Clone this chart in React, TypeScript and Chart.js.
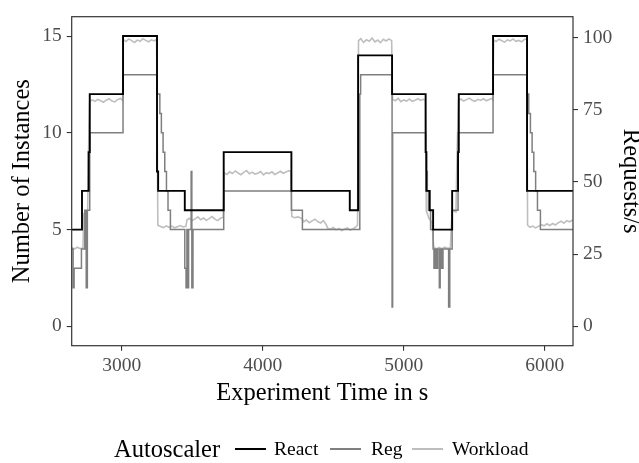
import { useEffect, useRef } from "react";
import { Chart, registerables } from "chart.js";

Chart.register(...registerables);

const FONT = '"Liberation Serif", "Times New Roman", serif';

const xTicks = [3000, 4000, 5000, 6000];
const yTicks = [0, 5, 10, 15];
const y2Ticks = [0, 25, 50, 75, 100];
const seriesNames = ["React", "Reg", "Workload"];
const seriesColors = ["#000000", "#7f7f7f", "#bebebe"];

const reactTime = [2645, 2718, 2765, 2773, 3009, 3250, 3258, 3447, 3723, 4203, 4617, 4676, 4917, 5155, 5160, 5184, 5208, 5343, 5385, 5390, 5633, 5874, 6200];
const reactInstances = [5, 7, 9, 12, 15, 8, 7, 6, 9, 7, 6, 14, 12, 9, 7, 6, 5, 7, 9, 12, 15, 7, 7];

const regTime = [2645, 2655, 2662, 2714, 2738, 2748, 2756, 2773, 3009, 3250, 3270, 3281, 3293, 3305, 3317, 3328, 3345, 3447, 3456, 3462, 3468, 3474, 3492, 3497, 3505, 3723, 4203, 4281, 4688, 4694, 4917, 4921, 5155, 5161, 5167, 5175, 5190, 5208, 5214, 5222, 5232, 5240, 5252, 5258, 5268, 5278, 5318, 5326, 5343, 5385, 5633, 5874, 5886, 5898, 5910, 5922, 5935, 5948, 5969, 6200];
const regInstances = [4, 2, 3, 4, 6, 2, 6, 10, 13, 12, 11, 10, 9, 8, 7, 6, 5, 3, 2, 5, 2, 5, 8, 2, 5, 7, 6, 5, 12, 13, 1, 10, 9, 8, 7, 6, 5, 4, 3, 4, 3, 4, 2, 4, 3, 4, 1, 4, 6, 10, 13, 12, 11, 10, 9, 8, 7, 6, 5, 5];

const workloadTime = [
  2645, 2665, 2685, 2705, 2725, 2731, 2745, 2758, 2764, 2772,
  2790, 2810, 2830, 2850, 2870, 2890, 2910, 2930, 2950, 2970, 2990, 3006,
  3011, 3030, 3050, 3070, 3090, 3110, 3130, 3150, 3170, 3190, 3210, 3230, 3247,
  3256, 3275, 3295, 3315, 3335, 3355, 3375, 3395, 3415, 3435, 3455,
  3462, 3480, 3500, 3520, 3540, 3560, 3580, 3600, 3620, 3640, 3660, 3680, 3700, 3720,
  3726, 3745, 3765, 3785, 3805, 3825, 3845, 3865, 3885, 3905, 3925, 3945, 3965, 3985, 4005, 4025, 4045, 4065, 4085, 4105, 4125, 4145, 4165, 4185, 4200,
  4206, 4225, 4250, 4280, 4290, 4310, 4330, 4350, 4370, 4390, 4410, 4430, 4450, 4460, 4480, 4500, 4520, 4540, 4560, 4580, 4600, 4620, 4640, 4660, 4672,
  4679, 4695, 4715, 4735, 4755, 4775, 4795, 4815, 4835, 4855, 4875, 4895, 4914,
  4920, 4940, 4960, 4980, 5000, 5020, 5040, 5060, 5080, 5100, 5120, 5140, 5153,
  5160, 5178, 5200, 5212, 5230, 5250, 5270, 5290, 5310, 5330, 5342, 5350, 5370, 5378, 5388,
  5405, 5425, 5445, 5465, 5485, 5505, 5525, 5545, 5565, 5585, 5605, 5625, 5632,
  5637, 5655, 5675, 5695, 5715, 5735, 5755, 5775, 5795, 5815, 5835, 5855, 5872,
  5878, 5895, 5915, 5935, 5955, 5975, 5995, 6015, 6035, 6055, 6075, 6095, 6115, 6135, 6155, 6175, 6200,
];
const workloadRps = [
  27.3, 26.8, 27.4, 26.9, 27.2, 39.0, 39.5, 40.2, 60.0, 77.8,
  78.4, 77.9, 78.6, 78.1, 77.6, 78.3, 78.8, 78.0, 77.7, 78.5, 78.9, 78.2,
  99.3, 98.6, 99.5, 98.9, 98.3, 99.1, 98.7, 99.6, 99.0, 98.5, 99.2, 98.8, 99.4,
  35.0, 34.6, 34.2, 34.8, 34.3, 34.7, 34.1, 34.5, 34.9, 34.4, 34.6,
  36.8, 37.4, 36.6, 37.2, 37.9, 36.9, 37.5, 36.7, 37.3, 38.0, 37.1, 36.6, 37.4, 37.8,
  53.2, 52.6, 53.5, 52.9, 53.8, 53.1, 52.5, 53.3, 53.9, 52.8, 53.4, 52.7, 53.0, 53.6, 52.4, 53.2, 52.9, 53.5, 52.6, 53.1, 53.7, 53.0, 53.4, 53.9, 53.6,
  38.0, 37.6, 37.9, 37.2, 36.2, 36.8, 35.9, 36.5, 37.1, 36.3, 35.8, 36.6, 35.2, 34.0, 33.6, 34.2, 33.4, 33.9, 33.2, 33.7, 34.1, 33.3, 33.8, 34.4, 35.0,
  98.9, 99.6, 98.3, 99.2, 98.7, 99.8, 98.5, 99.1, 98.2, 99.4, 98.8, 99.5, 98.9,
  78.6, 78.1, 78.9, 77.8, 78.4, 78.0, 78.7, 77.9, 78.3, 78.8, 78.2, 78.6, 78.4,
  40.0, 37.5, 36.0, 27.5, 26.8, 27.3, 26.9, 27.4, 27.0, 27.2, 39.5, 40.0, 39.6, 60.0, 78.2,
  78.7, 78.0, 78.5, 79.0, 78.3, 77.9, 78.6, 78.2, 78.8, 78.1, 78.5, 78.9, 78.4,
  99.1, 98.6, 99.4, 98.9, 98.4, 99.2, 98.8, 99.5, 98.7, 99.0, 98.5, 99.3, 99.6,
  35.0, 34.3, 34.7, 34.1, 34.6, 35.2, 34.8, 35.5, 34.9, 35.6, 35.1, 35.8, 36.4, 35.7, 36.6, 36.2, 36.8,
];

const W = 639;
const H = 463;

export default function App() {
  const ref = useRef<HTMLCanvasElement>(null);

  useEffect(() => {
    if (!ref.current) return;
    const panelBorder = {
      id: "panelBorder",
      afterDatasetsDraw(chart: any) {
        const { ctx, chartArea: a } = chart;
        ctx.save();
        ctx.strokeStyle = "#333333";
        ctx.lineWidth = 1.2;
        ctx.strokeRect(a.left, a.top, a.right - a.left, a.bottom - a.top);
        ctx.restore();
      },
    };
    const tickFont = { family: FONT, size: 19.5 };
    const titleFont = { family: FONT, size: 24.5, lineHeight: 1.2 };
    const grid = { drawOnChartArea: false, drawTicks: true, tickLength: 5, color: "#333333", lineWidth: 1.1 };

    const chart = new Chart(ref.current, {
      type: "line",
      data: {
        datasets: [
          {
            label: seriesNames[0],
            data: reactTime.map((t, i) => ({ x: t, y: reactInstances[i] })),
            borderColor: seriesColors[0],
            borderWidth: 1.9,
            stepped: true,
            pointRadius: 0,
            yAxisID: "y",
          },
          {
            label: seriesNames[1],
            data: regTime.map((t, i) => ({ x: t, y: regInstances[i] })),
            borderColor: seriesColors[1],
            borderWidth: 1.5,
            stepped: true,
            pointRadius: 0,
            yAxisID: "y",
          },
          {
            label: seriesNames[2],
            data: workloadTime.map((t, i) => ({ x: t, y: workloadRps[i] })),
            borderColor: seriesColors[2],
            borderWidth: 1.6,
            tension: 0,
            pointRadius: 0,
            yAxisID: "y2",
          },
        ],
      },
      options: {
        animation: false,
        responsive: false,
        events: [],
        layout: { padding: { top: 7.3, left: 0, right: 0, bottom: 0 } },
        plugins: { legend: { display: false }, tooltip: { enabled: false } },
        scales: {
          x: {
            type: "linear",
            min: 2645,
            max: 6200,
            afterBuildTicks: (s: any) => {
              s.ticks = xTicks.map((v) => ({ value: v }));
            },
            afterFit: (s: any) => {
              s.height = 117.3;
            },
            grid,
            border: { display: false },
            ticks: {
              font: tickFont,
              color: "#4d4d4d",
              padding: 3,
              maxRotation: 0,
              autoSkip: false,
              callback: (v: any) => String(v),
            },
            title: {
              display: true,
              text: "Experiment Time in s",
              font: titleFont,
              color: "#000000",
              padding: { top: 0, bottom: 55 },
            },
          },
          y: {
            type: "linear",
            position: "left",
            min: -1,
            max: 16,
            afterBuildTicks: (s: any) => {
              s.ticks = yTicks.map((v) => ({ value: v }));
            },
            afterFit: (s: any) => {
              s.width = 71.7;
            },
            grid,
            border: { display: false },
            ticks: {
              font: tickFont,
              color: "#4d4d4d",
              padding: 5,
              callback: (v: any) => String(v),
            },
            title: {
              display: true,
              text: "Number of Instances",
              font: titleFont,
              color: "#000000",
              padding: { top: 8, bottom: 0 },
            },
          },
          y2: {
            type: "linear",
            position: "right",
            min: -6.7,
            max: 107.2,
            afterBuildTicks: (s: any) => {
              s.ticks = y2Ticks.map((v) => ({ value: v }));
            },
            afterFit: (s: any) => {
              s.width = 66;
            },
            grid,
            border: { display: false },
            ticks: {
              font: tickFont,
              color: "#4d4d4d",
              padding: 5,
              callback: (v: any) => String(v),
            },
            title: {
              display: true,
              text: "Requests/s",
              font: { family: FONT, size: 24.5, lineHeight: 1 },
              color: "#000000",
              padding: { top: -4, bottom: 0 },
            },
          },
        },
      },
      plugins: [panelBorder],
    } as any);
    return () => chart.destroy();
  }, []);

  const legendY = 449;
  const itemStyle = (left: number, size: number): any => ({
    position: "absolute",
    left,
    top: legendY,
    transform: "translateY(-50%)",
    fontFamily: FONT,
    fontSize: size,
    lineHeight: 1,
    color: "#000",
    whiteSpace: "nowrap",
  });
  const lineStyle = (left: number, width: number, color: string): any => ({
    position: "absolute",
    left,
    top: legendY - 1.25,
    width,
    height: 2.5,
    background: color,
  });

  return (
    <div style={{ position: "fixed", left: 0, top: 0, width: W, height: H, background: "#fff" }}>
      <canvas ref={ref} width={W} height={H} style={{ width: W, height: H, display: "block" }} />
      <div style={itemStyle(114, 24.5)}>Autoscaler</div>
      <div style={lineStyle(235, 31, seriesColors[0])} />
      <div style={itemStyle(274, 19.5)}>{seriesNames[0]}</div>
      <div style={lineStyle(330, 31, seriesColors[1])} />
      <div style={itemStyle(371, 19.5)}>{seriesNames[1]}</div>
      <div style={lineStyle(412, 31, seriesColors[2])} />
      <div style={itemStyle(452, 19.5)}>{seriesNames[2]}</div>
    </div>
  );
}
